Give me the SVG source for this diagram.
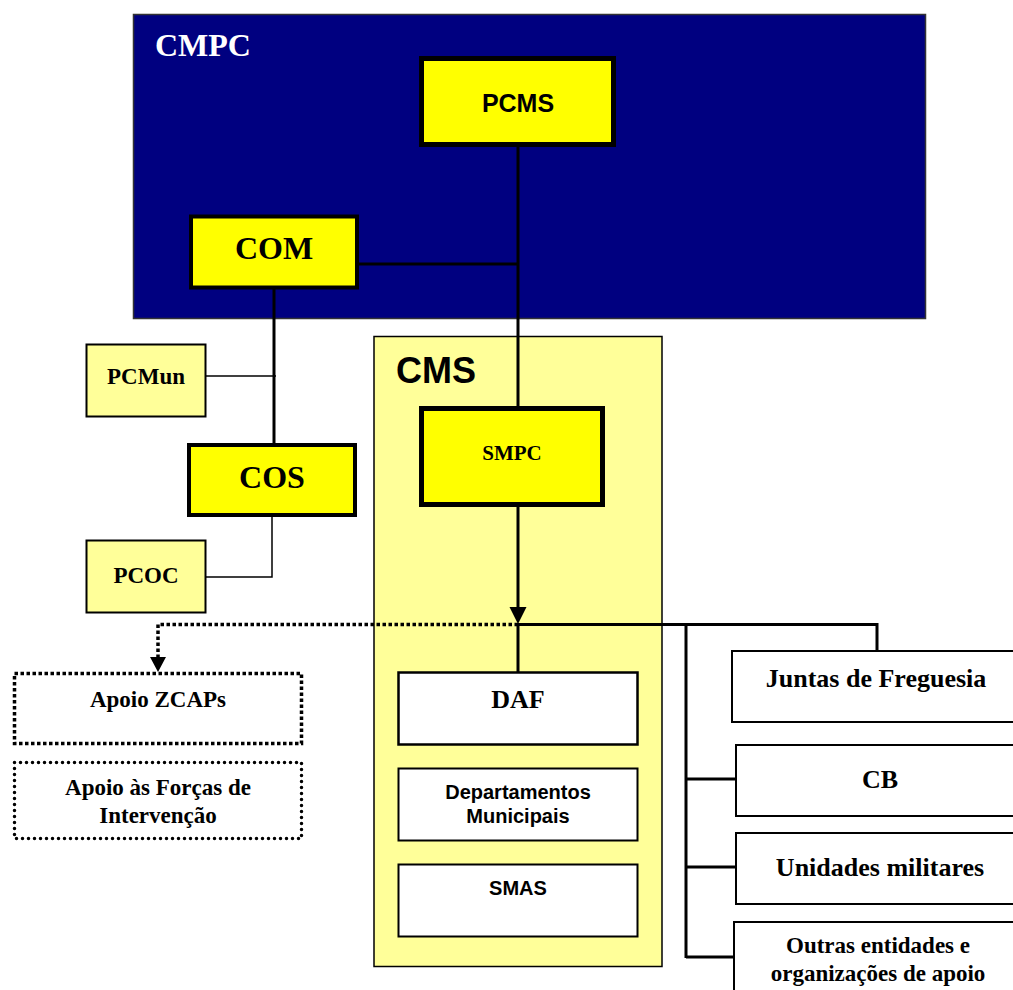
<svg xmlns="http://www.w3.org/2000/svg" width="1013" height="990" viewBox="0 0 1013 990">
<style>
.serif{font-family:"Liberation Serif","Times New Roman",serif;font-weight:bold;fill:#000;text-anchor:middle}
.sans{font-family:"Liberation Sans",Arial,sans-serif;font-weight:bold;fill:#000;text-anchor:middle}
.thick{fill:none;stroke:#000;stroke-width:3}
.thin{fill:none;stroke:#000;stroke-width:1.5}
.dot{fill:none;stroke:#000;stroke-width:3.5;stroke-dasharray:3.5 2.5}
</style>
<rect width="1013" height="990" fill="#fff"/>
<g id="CMPC">
<rect x="133.5" y="14.5" width="792" height="304" fill="#000080" stroke="#333" stroke-width="1.5"/>
<text x="155" y="56" class="serif" style="fill:#fff;text-anchor:start" font-size="32">CMPC</text>
</g>
<g id="CMS">
<rect x="374" y="336.5" width="288" height="630" fill="#FFFF99" stroke="#000" stroke-width="1.5"/>
<text x="396" y="383" class="sans" style="text-anchor:start" font-size="36">CMS</text>
</g>
<g id="connectors">
<line x1="518" y1="147" x2="518" y2="406" class="thick"/>
<line x1="359" y1="264" x2="518" y2="264" class="thick"/>
<line x1="274" y1="289" x2="274" y2="443" class="thick"/>
<line x1="206" y1="376" x2="276" y2="376" class="thin"/>
<polyline points="272,517 272,577 206,577" class="thin"/>
<line x1="518" y1="507" x2="518" y2="608" class="thick"/>
<polygon points="509.5,607 526.5,607 518,624" fill="#000"/>
<polyline points="518,624.5 877,624.5 877,651" class="thick"/>
<line x1="518" y1="624" x2="518" y2="672" class="thick"/>
<polyline points="518,624.5 158,624.5 158,658" class="dot"/>
<polygon points="150,657 166,657 158,672" fill="#000"/>
<line x1="686" y1="623" x2="686" y2="958" class="thick"/>
<line x1="686" y1="779" x2="736" y2="779" class="thick"/>
<line x1="686" y1="867" x2="736" y2="867" class="thick"/>
<line x1="686" y1="957" x2="734" y2="957" class="thick"/>
</g>
<g id="PCMS">
<rect x="421.5" y="58.5" width="192" height="86" fill="#FFFF00" stroke="#000" stroke-width="5"/>
<text x="518" y="112" class="sans" font-size="25">PCMS</text>
</g>
<g id="COM">
<rect x="191" y="216.5" width="166" height="71" fill="#FFFF00" stroke="#000" stroke-width="4"/>
<text x="274" y="259" class="serif" font-size="32">COM</text>
</g>
<g id="PCMun">
<rect x="86.5" y="344.5" width="119" height="72" fill="#FFFF99" stroke="#000" stroke-width="2"/>
<text x="146" y="384" class="serif" font-size="23">PCMun</text>
</g>
<g id="COS">
<rect x="189" y="445" width="166" height="70" fill="#FFFF00" stroke="#000" stroke-width="4"/>
<text x="272" y="488" class="serif" font-size="32">COS</text>
</g>
<g id="PCOC">
<rect x="86.5" y="540.5" width="119" height="72" fill="#FFFF99" stroke="#000" stroke-width="2"/>
<text x="146" y="583" class="serif" font-size="23">PCOC</text>
</g>
<g id="SMPC">
<rect x="421.5" y="408.5" width="181" height="96" fill="#FFFF00" stroke="#000" stroke-width="5"/>
<text x="512" y="460" class="serif" font-size="21">SMPC</text>
</g>
<g id="ApoioZCAPs">
<rect x="14.5" y="673.5" width="287" height="70" fill="#fff" class="dot"/>
<text x="158" y="707" class="serif" font-size="23">Apoio ZCAPs</text>
</g>
<g id="ApoioForcas">
<rect x="14.5" y="762.5" width="287" height="76" fill="#fff" stroke="#000" stroke-width="3.5" stroke-dasharray="0 6" stroke-linecap="round"/>
<text x="158" y="795" class="serif" font-size="23">Apoio às Forças de</text>
<text x="158" y="823" class="serif" font-size="23">Intervenção</text>
</g>
<g id="DAF">
<rect x="398.5" y="672.5" width="239" height="72" fill="#fff" stroke="#000" stroke-width="2.5"/>
<text x="518" y="708" class="serif" font-size="26">DAF</text>
</g>
<g id="DepartamentosMunicipais">
<rect x="398.5" y="768.5" width="239" height="72" fill="#fff" stroke="#000" stroke-width="2"/>
<text x="518" y="799" class="sans" font-size="20">Departamentos</text>
<text x="518" y="823" class="sans" font-size="20">Municipais</text>
</g>
<g id="SMAS">
<rect x="398.5" y="864.5" width="239" height="72" fill="#fff" stroke="#000" stroke-width="2"/>
<text x="518" y="895" class="sans" font-size="20">SMAS</text>
</g>
<g id="Juntas">
<rect x="732" y="651" width="290" height="71" fill="#fff" stroke="#000" stroke-width="2"/>
<text x="876" y="687" class="serif" font-size="26">Juntas de Freguesia</text>
</g>
<g id="CB">
<rect x="736" y="745" width="290" height="71" fill="#fff" stroke="#000" stroke-width="2"/>
<text x="880" y="788" class="serif" font-size="26">CB</text>
</g>
<g id="Unidades">
<rect x="736" y="833" width="290" height="71" fill="#fff" stroke="#000" stroke-width="2"/>
<text x="880" y="876" class="serif" font-size="26">Unidades militares</text>
</g>
<g id="Outras">
<rect x="734" y="922" width="290" height="80" fill="#fff" stroke="#000" stroke-width="2"/>
<text x="878" y="953" class="serif" font-size="23">Outras entidades e</text>
<text x="878" y="981" class="serif" font-size="23">organizações de apoio</text>
</g>
</svg>
